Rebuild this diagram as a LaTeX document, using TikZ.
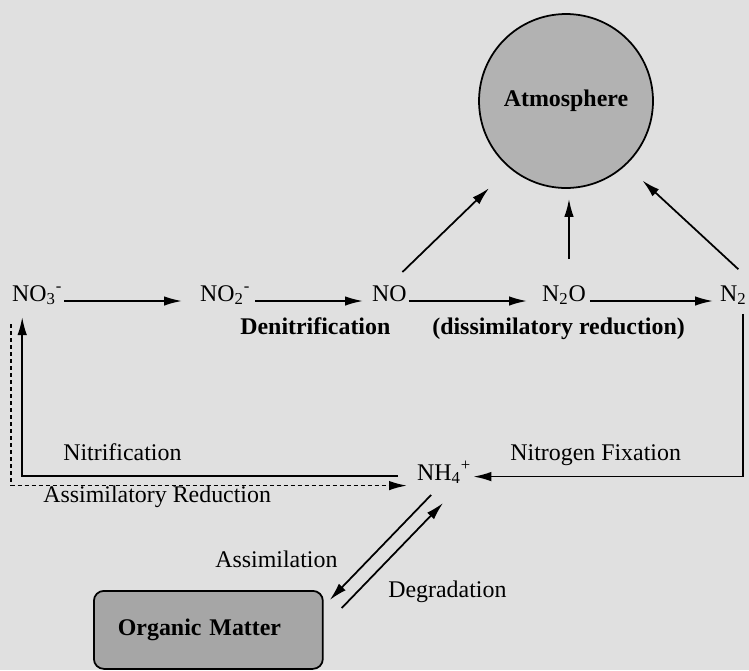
\documentclass[tikz,border=0pt]{standalone}
\usepackage{fontspec}
\setmainfont{Liberation Serif}
\usepackage{tikz}
\usetikzlibrary{arrows.meta}
\usetikzlibrary{positioning}
\definecolor{paper}{gray}{0.88}
\definecolor{airgray}{gray}{0.70}
\definecolor{orggray}{gray}{0.65}
\newcommand{\cyclefont}{\fontsize{13.6}{16}\selectfont}
\tikzset{
	chem/.style = {inner sep=1pt, anchor=base west},
	lbl/.style = {inner sep=0pt, anchor=base west},
	flow/.style = {line width=1pt, -{Latex[length=3.6mm,width=1.9mm]}},
	pool/.style = {draw, line width=1pt, font=\cyclefont\bfseries}
}

\begin{document}
\begin{tikzpicture}[x=0.02cm, y=-0.02cm, font=\cyclefont]

					\fill[paper] (0,0) rectangle (749,670);

					\node[pool, circle, fill=airgray, minimum size=3.48cm] (atm) at (566,101) {Atmosphere};

					\node[chem] (no3) at (10,301) {NO\textsubscript{3}\textsuperscript{-}};
					\node[chem] (no2) at (198,301) {NO\textsubscript{2}\textsuperscript{-}};
					\node[chem] (no) at (370,301) {NO};
					\node[chem] (n2o) at (540,301) {N\textsubscript{2}O};
					\node[chem] (n2) at (718,301) {N\textsubscript{2}};
					\node[chem] (nh4) at (415,480) {NH\textsubscript{4}\textsuperscript{+}};

					\node[pool, rounded corners=2mm, fill=orggray, anchor=north west, minimum height=1.56cm,
						text width=3.62cm, inner xsep=0.48cm, align=left] (om) at (93,590) {Organic Matter};

					\node[lbl, font=\cyclefont\bfseries] (denit) at (240,334) {Denitrification};
					\node[lbl, font=\cyclefont\bfseries] (dissim) at (432,334) {(dissimilatory reduction)};
					\node[lbl] (nitrif) at (63,460) {Nitrification};
					\node[lbl] (assred) at (43,502) {Assimilatory Reduction};
					\node[lbl] (nfix) at (510,460) {Nitrogen Fixation};
					\node[lbl] (assim) at (215,567) {Assimilation};
					\node[lbl] (degr) at (388,597) {Degradation};

					\coordinate (n2otop) at ([xshift=1mm]n2o.north);

					\draw[flow, shorten >=3.2mm] (no3.base east) -- (no2.base west);
					\draw[flow, shorten <=0.6mm, shorten >=1.4mm] (no2.base east) -- (no.base west);
					\draw[flow, shorten >=2.6mm] (no.base east) -- (n2o.base west);
					\draw[flow, shorten <=0.4mm, shorten >=1mm] (n2o.base east) -- (n2.base west);

					\draw[flow, shorten >=5.7mm] ([shift={(13,-11)}]no.north) -- (atm.230);
					\draw[flow, shorten <=4.8mm, shorten >=2mm] (n2otop) -- (atm.south -| n2otop);
					\draw[flow, shorten >=4.5mm] ([shift={(5,-14)}]n2.north) -- (atm.313);

					\draw[flow, shorten <=1.4mm] ([xshift=2mm]n2.south) |- ([yshift=-0.8mm]nh4.east);
					\draw[flow, shorten <=3.4mm, shorten >=2mm] ([yshift=-0.7mm]nh4.west) -| ([xshift=-3mm]no3.south);
					\draw[flow, dash pattern=on 0.8mm off 0.6mm, shorten <=3.4mm, shorten >=1.6mm]
						([xshift=-5.2mm]no3.south) |- ([yshift=-2.6mm]nh4.west);

					\draw[flow] ([shift={(-13,9)}]nh4.south) -- ([shift={(6,10)}]om.north east);
					\draw[flow] ([shift={(18,18)}]om.north east) -- ([shift={(-1,17)}]nh4.south);

\end{tikzpicture}
\end{document}
